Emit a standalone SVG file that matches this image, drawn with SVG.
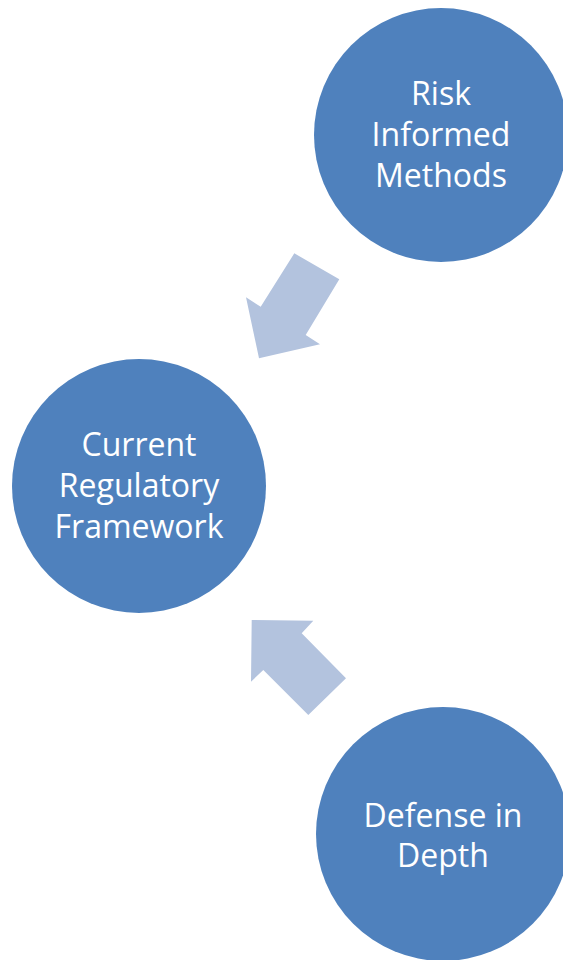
<svg xmlns="http://www.w3.org/2000/svg" width="563" height="960" viewBox="0 0 563 960">
  <style>
    .node { fill: #4F81BD; }
    .arrow { fill: #B3C3DE; }
    .label { fill: #FFFFFF; font-family: "Open Sans", "Liberation Sans", sans-serif; font-size: 32px; text-anchor: middle; }
  </style>
  <rect width="563" height="960" fill="#FFFFFF"/>
  <g id="connectors">
    <polygon class="arrow" points="294.3,253.3 339.3,279.3 305.7,335 320,344.3 259,358.3 246,297.3 260.7,306.7"/>
    <polygon class="arrow" points="251.7,620 313.3,620.7 301.7,633.3 346,678.3 308.3,715 263.3,670 251,681.7"/>
  </g>
  <g id="risk-informed-methods">
    <circle class="node" cx="441" cy="135" r="127"/>
    <text class="label" x="441" y="105">Risk</text>
    <text class="label" x="441" y="146">Informed</text>
    <text class="label" x="441" y="187">Methods</text>
  </g>
  <g id="current-regulatory-framework">
    <circle class="node" cx="139" cy="486" r="127"/>
    <text class="label" x="139" y="456">Current</text>
    <text class="label" x="139" y="497">Regulatory</text>
    <text class="label" x="139" y="538">Framework</text>
  </g>
  <g id="defense-in-depth">
    <circle class="node" cx="443" cy="834" r="127"/>
    <text class="label" x="443" y="827">Defense in</text>
    <text class="label" x="443" y="867">Depth</text>
  </g>
</svg>
